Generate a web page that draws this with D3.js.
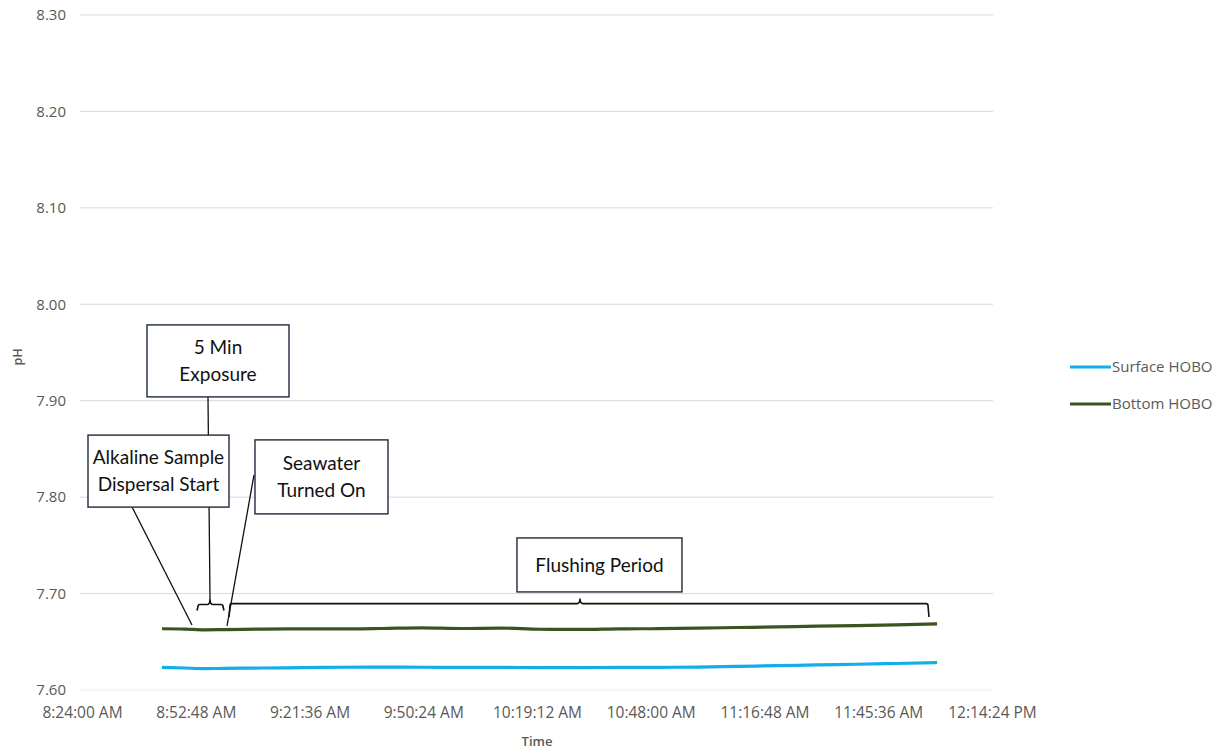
<!DOCTYPE html>
<html>
<head>
<meta charset="utf-8">
<script src="https://cdn.jsdelivr.net/npm/d3@7"></script>
<style>
  body { margin: 0; background: #fff; }
  .tick text { fill: #595959; font-family: "Open Sans", sans-serif; }
  .ann text { font-family: Lato, "Open Sans", sans-serif; font-size: 19px; fill: #111; }
</style>
</head>
<body>
<svg id="chart"></svg>
<script>
// tick labels
const yTicks = [7.6, 7.7, 7.8, 7.9, 8.0, 8.1, 8.2, 8.3];
const xTicks = ['8:24:00 AM', '8:52:48 AM', '9:21:36 AM', '9:50:24 AM', '10:19:12 AM',
  '10:48:00 AM', '11:16:48 AM', '11:45:36 AM', '12:14:24 PM'];

// sample times (shared by both loggers)
const times = ['8:44:15 AM', '8:50:00 AM', '8:55:00 AM', '9:00:00 AM', '9:10:00 AM', '9:20:00 AM',
  '9:30:00 AM', '9:40:00 AM', '9:50:00 AM', '10:00:00 AM', '10:10:00 AM', '10:20:00 AM',
  '10:30:00 AM', '10:40:00 AM', '10:50:00 AM', '11:00:00 AM', '11:10:00 AM', '11:20:00 AM',
  '11:30:00 AM', '11:40:00 AM', '11:50:00 AM', '12:00:30 PM'];

// Surface HOBO
const surfaceHobo = [7.6235, 7.6228, 7.6222, 7.6224, 7.6228, 7.6232, 7.6236, 7.6238, 7.6236, 7.6235,
  7.6234, 7.6233, 7.6233, 7.6234, 7.6235, 7.6238, 7.6245, 7.6252, 7.626, 7.6267, 7.6275, 7.6285];

// Bottom HOBO
const bottomHobo = [7.6635, 7.6632, 7.6624, 7.6626, 7.6632, 7.6634, 7.6633, 7.6638, 7.6645, 7.6638,
  7.6642, 7.663, 7.6628, 7.6634, 7.6636, 7.6642, 7.6648, 7.6655, 7.6662, 7.6668, 7.6675, 7.6685];

const seriesNames = ['Surface HOBO', 'Bottom HOBO'];
const seriesColors = ['#12aeea', '#3a5421'];

// callout boxes: centre time, centre pH, lines of text
const boxTimes = ['8:58:26 AM', '8:43:22 AM', '9:24:38 AM', '10:35:01 AM'];
const boxPh = [7.9413, 7.827, 7.821, 7.7297];
const boxLabels = [['5 Min', 'Exposure'], ['Alkaline Sample', 'Dispersal Start'],
  ['Seawater', 'Turned On'], ['Flushing Period']];

// pointer lines: [from time, from pH, to time, to pH]
const pointers = [
  ['8:55:54 AM', 7.9044, '8:56:25 AM', 7.6902],
  ['8:36:40 AM', 7.7898, '8:51:51 AM', 7.6674],
  ['9:07:33 AM', 7.8230, '9:00:43 AM', 7.6664],
];

// braces: start, end, middle time, pH of bar, pH of ends
const braceStart = ['8:53:07 AM', '9:01:13 AM'];
const braceEnd = ['8:59:57 AM', '11:58:27 AM'];
const braceMid = ['8:56:25 AM', '10:30:05 AM'];
const braceBar = [7.6886, 7.6896];
const braceEnds = [7.6824, 7.6757];

const width = 1231;
const height = 753;
const parse = d3.timeParse('%I:%M:%S %p');

const xScale = d3.scaleTime()
  .domain([parse(xTicks[0]), parse(xTicks[xTicks.length - 1])])
  .range([82, 992]);

const yScale = d3.scaleLinear()
  .domain([7.6, 8.3])
  .range([690, 15]);

const svg = d3.select('#chart')
  .attr('width', width)
  .attr('height', height)
  .style('font-family', '"Open Sans", sans-serif');

// gridlines
svg.append('g')
  .selectAll('line')
  .data(yTicks)
  .join('line')
  .attr('x1', 80)
  .attr('x2', 993)
  .attr('y1', d => yScale(d))
  .attr('y2', d => yScale(d))
  .attr('stroke', d => d === 7.6 ? '#eeeeee' : '#d9d9d9')
  .attr('stroke-width', 1);

// axes
const yAxis = d3.axisLeft(yScale)
  .tickValues(yTicks)
  .tickFormat(d3.format('.2f'))
  .tickSize(0)
  .tickPadding(14);

svg.append('g')
  .attr('transform', 'translate(80,0)')
  .call(yAxis)
  .call(g => g.select('.domain').remove())
  .selectAll('text')
  .style('font-size', '15px');

const xAxis = d3.axisBottom(xScale)
  .tickValues(xTicks.map(parse))
  .tickFormat(d3.timeFormat('%-I:%M:%S %p'))
  .tickSize(0)
  .tickPadding(17);

svg.append('g')
  .attr('transform', 'translate(0,690)')
  .call(xAxis)
  .call(g => g.select('.domain').remove())
  .selectAll('text')
  .style('font-size', '15.5px');

// axis titles
svg.append('text')
  .attr('transform', 'translate(18,357) rotate(-90)')
  .attr('text-anchor', 'middle')
  .attr('dy', '0.35em')
  .attr('fill', '#595959')
  .style('font-size', '12.5px')
  .style('font-weight', 600)
  .text('pH');

svg.append('text')
  .attr('x', 537)
  .attr('y', 746)
  .attr('text-anchor', 'middle')
  .attr('fill', '#595959')
  .style('font-size', '13px')
  .style('font-weight', 600)
  .text('Time');

// series lines
const valueline = d3.line()
  .x(d => xScale(d.t))
  .y(d => yScale(d.v))
  .curve(d3.curveMonotoneX);

[surfaceHobo, bottomHobo].forEach((vals, i) => {
  svg.append('path')
    .datum(times.map((t, j) => ({ t: parse(t), v: vals[j] })))
    .attr('fill', 'none')
    .attr('stroke', seriesColors[i])
    .attr('stroke-width', 3.2)
    .attr('d', valueline);
});

// legend
const legend = svg.append('g')
  .selectAll('g')
  .data(seriesNames)
  .join('g')
  .attr('transform', (d, i) => `translate(1070,${367 + i * 37})`);

legend.append('line')
  .attr('x1', 0)
  .attr('x2', 41)
  .attr('stroke', (d, i) => seriesColors[i])
  .attr('stroke-width', 3);

legend.append('text')
  .attr('x', 42)
  .attr('dy', '0.35em')
  .attr('fill', '#595959')
  .style('font-size', '15px')
  .text(d => d);

// annotations
const ann = svg.append('g').attr('class', 'ann');

pointers.forEach(p => {
  ann.append('line')
    .attr('x1', xScale(parse(p[0])))
    .attr('y1', yScale(p[1]))
    .attr('x2', xScale(parse(p[2])))
    .attr('y2', yScale(p[3]))
    .attr('stroke', '#111')
    .attr('stroke-width', 1.3);
});

braceStart.forEach((s, i) => {
  const x0 = xScale(parse(s));
  const x1 = xScale(parse(braceEnd[i]));
  const xm = xScale(parse(braceMid[i]));
  const yb = yScale(braceBar[i]);
  const ye = yScale(braceEnds[i]);
  ann.append('path')
    .attr('d', `M${x0},${ye} L${x0 + 1},${yb + 2} Q${x0 + 1},${yb} ${x0 + 3},${yb}
      L${xm - 3},${yb} Q${xm},${yb} ${xm},${yb - 5} Q${xm},${yb} ${xm + 3},${yb}
      L${x1 - 3},${yb} Q${x1 - 1},${yb} ${x1 - 1},${yb + 2} L${x1},${ye}`)
    .attr('fill', 'none')
    .attr('stroke', '#111')
    .attr('stroke-width', 1.6);
});

const boxSize = [[142, 72], [141, 72], [133, 74], [165, 54]];

boxTimes.forEach((t, i) => {
  const cx = xScale(parse(t));
  const cy = yScale(boxPh[i]);
  const [w, h] = boxSize[i];
  ann.append('rect')
    .attr('x', cx - w / 2)
    .attr('y', cy - h / 2)
    .attr('width', w)
    .attr('height', h)
    .attr('fill', '#fff')
    .attr('stroke', '#1f2a3c')
    .attr('stroke-width', 1.4);
  const lines = boxLabels[i];
  lines.forEach((l, k) => {
    ann.append('text')
      .attr('x', cx)
      .attr('y', cy + (k - (lines.length - 1) / 2) * 27)
      .attr('dy', '0.35em')
      .attr('text-anchor', 'middle')
      .text(l);
  });
});
</script>
</body>
</html>
